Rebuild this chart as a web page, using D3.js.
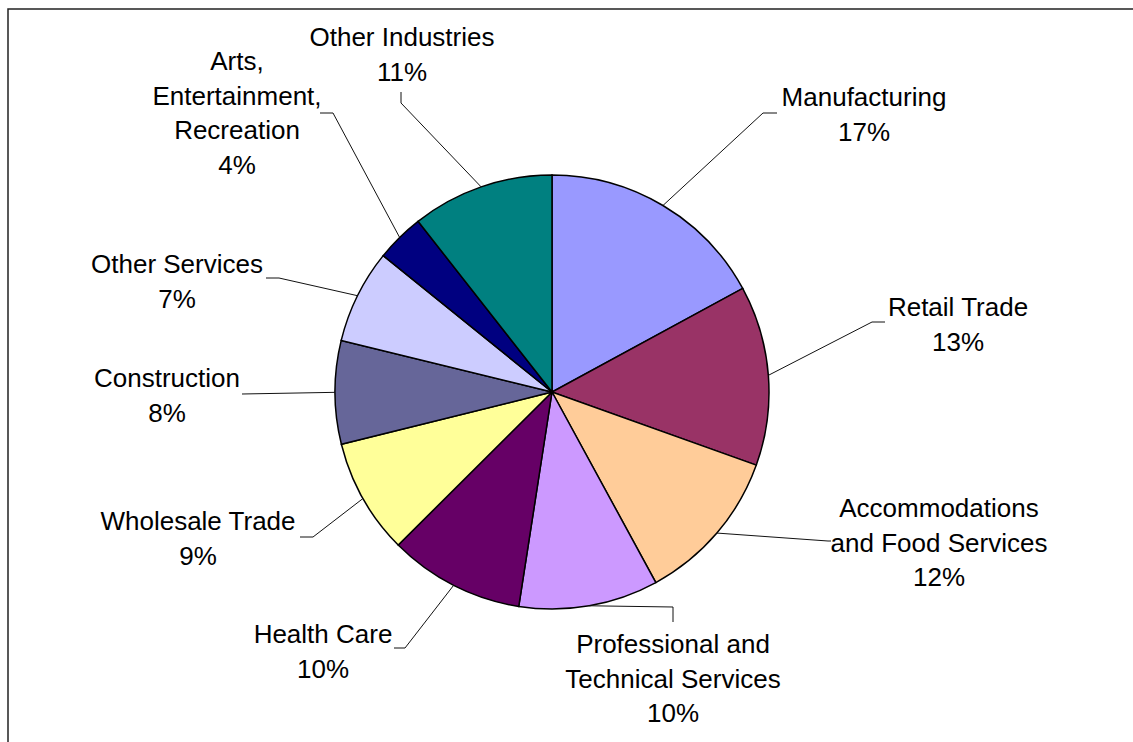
<!DOCTYPE html>
<html>
<head>
<meta charset="utf-8">
<script src="https://cdn.jsdelivr.net/npm/d3@7/dist/d3.min.js"></script>
<style>
  body { margin: 0; background: #fff; }
  .lbl { font-family: "Liberation Sans", Arial, sans-serif; font-size: 26px; fill: #000; }
  .leader { fill: none; stroke: #111; stroke-width: 1; }
</style>
</head>
<body>
<div id="chart"></div>
<script>
// data, clockwise from 12 o'clock
var categories = ["Manufacturing", "Retail Trade", "Accommodations and Food Services",
  "Professional and Technical Services", "Health Care", "Wholesale Trade",
  "Construction", "Other Services", "Arts, Entertainment, Recreation", "Other Industries"];
var shares = [17.1, 13.4, 11.6, 10.4, 10.1, 8.6, 7.7, 7.0, 3.6, 10.6];
var colors = ["#9999FF", "#993366", "#FFCC99", "#CC99FF", "#660066",
  "#FFFF99", "#666699", "#CCCCFF", "#000080", "#008080"];
// how each label is broken into lines
var labelLines = [["Manufacturing"], ["Retail Trade"], ["Accommodations", "and Food Services"],
  ["Professional and", "Technical Services"], ["Health Care"], ["Wholesale Trade"],
  ["Construction"], ["Other Services"], ["Arts,", "Entertainment,", "Recreation"], ["Other Industries"]];

var width = 1133, height = 742;
var cx = 552, cy = 392, radius = 217;

// label placement (text centre x, first baseline) and leader elbow/end
var labelLayout = [
  {x: 864, y: 106, elbow: [763, 113], end: [777, 113]},
  {x: 958, y: 316, elbow: [872, 322], end: [885, 322]},
  {x: 939, y: 517, elbow: [828, 541], end: [831, 541]},
  {x: 673, y: 653, elbow: [673, 607], end: [673, 622]},
  {x: 323, y: 643, elbow: [405, 648], end: [394, 648]},
  {x: 198, y: 530, elbow: [313, 537], end: [300, 537]},
  {x: 167, y: 387, elbow: [242, 394], end: [242, 394]},
  {x: 177, y: 273, elbow: [279, 278], end: [266, 278]},
  {x: 237, y: 70,  elbow: [333, 113], end: [320, 113]},
  {x: 402, y: 46,  elbow: [401, 103], end: [401, 92]}
];
var lineGap = 34.5;

var svg = d3.select("#chart").append("svg")
  .attr("width", width)
  .attr("height", height);

// frame
svg.append("path")
  .attr("d", "M8," + height + "V9H" + width)
  .attr("fill", "none")
  .attr("stroke", "#222")
  .attr("stroke-width", 1.5);

var total = d3.sum(shares);
var pie = d3.pie().sort(null).value(function(d) { return d; });
var arcs = pie(shares);
var arc = d3.arc().innerRadius(0).outerRadius(radius);
var edgeArc = d3.arc().innerRadius(radius).outerRadius(radius);

var g = svg.append("g")
  .attr("transform", "translate(" + cx + "," + cy + ")");

g.selectAll("path.slice")
  .data(arcs)
  .enter().append("path")
  .attr("class", "slice")
  .attr("d", arc)
  .attr("fill", function(d, i) { return colors[i]; })
  .attr("stroke", "#000")
  .attr("stroke-width", 1.5);

// leader lines
svg.selectAll("path.leader")
  .data(arcs)
  .enter().append("path")
  .attr("class", "leader")
  .attr("d", function(d, i) {
    var c = edgeArc.centroid(d);
    var L = labelLayout[i];
    return d3.line()([[cx + c[0], cy + c[1]], L.elbow, L.end]);
  });

// labels
var labels = svg.selectAll("text.lbl")
  .data(categories)
  .enter().append("text")
  .attr("class", "lbl")
  .attr("text-anchor", "middle");

labels.each(function(name, i) {
  var L = labelLayout[i];
  var lines = labelLines[i].concat([Math.round(shares[i] / total * 100) + "%"]);
  d3.select(this).selectAll("tspan")
    .data(lines)
    .enter().append("tspan")
    .attr("x", L.x)
    .attr("y", function(t, k) { return L.y + k * lineGap; })
    .text(function(t) { return t; });
});
</script>
</body>
</html>
